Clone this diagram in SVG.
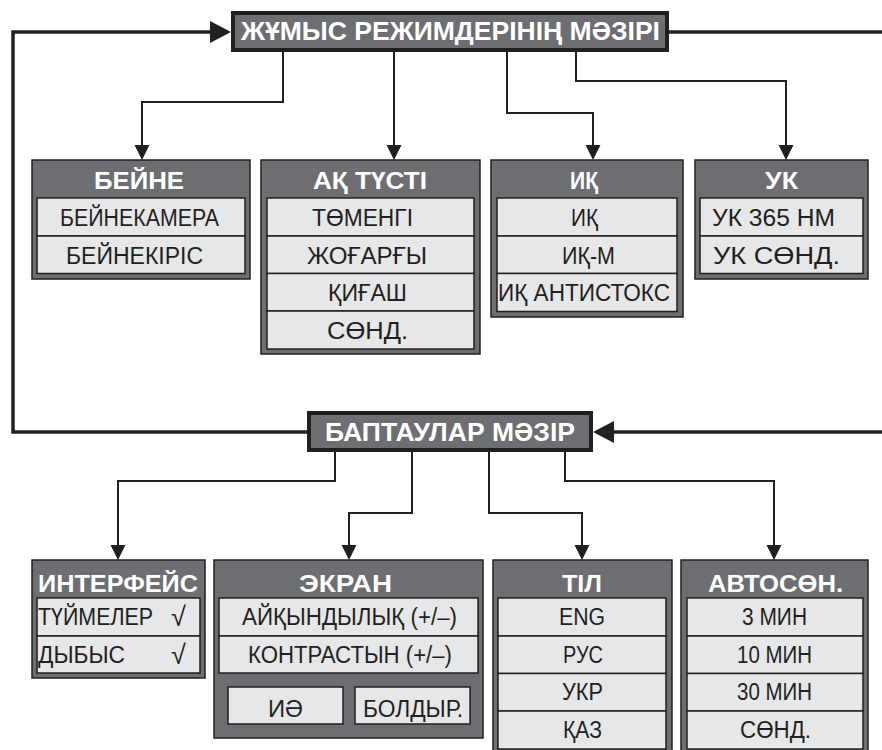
<svg xmlns="http://www.w3.org/2000/svg" width="882" height="750" viewBox="0 0 882 750">
<style>
.bg{fill:#ffffff}
.ttlbox{fill:#6d6e71;stroke:#231f20;stroke-width:4}
.bx{fill:#6d6e71;stroke:#231f20;stroke-width:1.5}
.row{fill:#e6e7e8;stroke:#231f20;stroke-width:1.5}
.ttl{font-family:"Liberation Sans",Arial,sans-serif;font-weight:bold;font-size:25px;fill:#ffffff;text-anchor:middle}
.h{font-family:"Liberation Sans",Arial,sans-serif;font-weight:bold;font-size:24px;fill:#ffffff;text-anchor:middle}
.t{font-family:"Liberation Sans",Arial,sans-serif;font-size:23px;fill:#231f20;text-anchor:middle}
.tl{font-family:"Liberation Sans",Arial,sans-serif;font-size:23px;fill:#231f20}
.ck{font-family:"Liberation Sans",Arial,sans-serif;font-size:27px;fill:#231f20}
.thick{fill:none;stroke:#231f20;stroke-width:3.5}
.thin{fill:none;stroke:#231f20;stroke-width:2}
</style>
<defs>
<marker id="ah" markerUnits="userSpaceOnUse" markerWidth="15" markerHeight="16" viewBox="0 0 15 16" refX="0" refY="8" orient="auto">
<path d="M0,0.5 L15,8 L0,15.5 z" fill="#231f20"/>
</marker>
<marker id="big" markerUnits="userSpaceOnUse" markerWidth="21" markerHeight="22" viewBox="0 0 21 22" refX="0" refY="11" orient="auto">
<path d="M0,0 L21,11 L0,22 z" fill="#231f20"/>
</marker>
</defs>
<rect class="bg" x="0" y="0" width="882" height="750"/>

<g id="connectors">
<path class="thick" d="M307 432 H13 V32 H210" marker-end="url(#big)"/>
<path class="thick" d="M669 32 H882"/>
<path class="thick" d="M882 432 H614" marker-end="url(#big)"/>
<path class="thin" d="M283 52 V102 H142 V145" marker-end="url(#ah)"/>
<path class="thin" d="M394 52 V145" marker-end="url(#ah)"/>
<path class="thin" d="M507 52 V113 H593 V145" marker-end="url(#ah)"/>
<path class="thin" d="M576 52 V81 H786 V145" marker-end="url(#ah)"/>
<path class="thin" d="M335 452 V481 H118 V545" marker-end="url(#ah)"/>
<path class="thin" d="M412 452 V513 H349 V545" marker-end="url(#ah)"/>
<path class="thin" d="M489 452 V513 H582 V545" marker-end="url(#ah)"/>
<path class="thin" d="M565 452 V481 H774 V545" marker-end="url(#ah)"/>
</g>

<g id="modes-menu">
<rect class="ttlbox" x="233" y="13" width="434" height="37"/>
<text class="ttl" x="450.5" y="40" textLength="419" lengthAdjust="spacingAndGlyphs">ЖҰМЫС РЕЖИМДЕРІНІҢ МӘЗІРІ</text>
</g>

<g id="settings-menu">
<rect class="ttlbox" x="309" y="413" width="282" height="37"/>
<text class="ttl" x="450" y="441" textLength="250" lengthAdjust="spacingAndGlyphs">БАПТАУЛАР МӘЗІР</text>
</g>

<g id="beine">
<rect class="bx" x="32" y="160" width="218" height="119"/>
<text class="h" x="139" y="188.5" textLength="90" lengthAdjust="spacingAndGlyphs">БЕЙНЕ</text>
<rect class="row" x="37" y="198" width="208" height="38"/>
<rect class="row" x="37" y="236" width="208" height="37.5"/>
<text class="t" x="139.5" y="226" textLength="159" lengthAdjust="spacingAndGlyphs">БЕЙНЕКАМЕРА</text>
<text class="t" x="134.5" y="263.5" textLength="137" lengthAdjust="spacingAndGlyphs">БЕЙНЕКІРІС</text>
</g>

<g id="ak-tusti">
<rect class="bx" x="261" y="160" width="219" height="194"/>
<text class="h" x="370" y="188.5" textLength="114" lengthAdjust="spacingAndGlyphs">АҚ ТҮСТІ</text>
<rect class="row" x="267" y="198" width="207" height="38"/>
<rect class="row" x="267" y="236" width="207" height="37.5"/>
<rect class="row" x="267" y="273.5" width="207" height="37.5"/>
<rect class="row" x="267" y="311" width="207" height="38"/>
<text class="t" x="362.5" y="226" textLength="101" lengthAdjust="spacingAndGlyphs">ТӨМЕНГІ</text>
<text class="t" x="367" y="263.5" textLength="120" lengthAdjust="spacingAndGlyphs">ЖОҒАРҒЫ</text>
<text class="t" x="367.5" y="301" textLength="79" lengthAdjust="spacingAndGlyphs">ҚИҒАШ</text>
<text class="t" x="367.5" y="338.5" textLength="81" lengthAdjust="spacingAndGlyphs">СӨНД.</text>
</g>

<g id="ik">
<rect class="bx" x="491" y="160" width="192" height="157"/>
<text class="h" x="584" y="188.5" textLength="28" lengthAdjust="spacingAndGlyphs">ИҚ</text>
<rect class="row" x="497" y="198" width="180" height="38"/>
<rect class="row" x="497" y="236" width="180" height="37.5"/>
<rect class="row" x="497" y="273.5" width="180" height="38"/>
<text class="t" x="584.5" y="226" textLength="27" lengthAdjust="spacingAndGlyphs">ИҚ</text>
<text class="t" x="588.5" y="263.5" textLength="53" lengthAdjust="spacingAndGlyphs">ИҚ-М</text>
<text class="t" x="584" y="301" textLength="172" lengthAdjust="spacingAndGlyphs">ИҚ АНТИСТОКС</text>
</g>

<g id="uk">
<rect class="bx" x="695" y="160" width="173" height="119"/>
<text class="h" x="781.5" y="188.5" textLength="33" lengthAdjust="spacingAndGlyphs">УК</text>
<rect class="row" x="700" y="198" width="163" height="38"/>
<rect class="row" x="700" y="236" width="163" height="37.5"/>
<text class="t" x="773.5" y="226" textLength="123" lengthAdjust="spacingAndGlyphs">УК 365 НМ</text>
<text class="t" x="776.5" y="263.5" textLength="127" lengthAdjust="spacingAndGlyphs">УК СӨНД.</text>
</g>

<g id="interface">
<rect class="bx" x="32" y="560" width="173" height="118"/>
<text class="h" x="118" y="592" textLength="160" lengthAdjust="spacingAndGlyphs">ИНТЕРФЕЙС</text>
<rect class="row" x="37" y="598" width="163" height="38"/>
<rect class="row" x="37" y="636" width="163" height="37"/>
<text class="tl" x="38" y="625" textLength="115" lengthAdjust="spacingAndGlyphs">ТҮЙМЕЛЕР</text>
<text class="ck" x="171" y="626">√</text>
<text class="tl" x="38" y="662.5" textLength="87" lengthAdjust="spacingAndGlyphs">ДЫБЫС</text>
<text class="ck" x="171" y="663.5">√</text>
</g>

<g id="ekran">
<rect class="bx" x="214" y="560" width="269" height="178"/>
<text class="h" x="345.5" y="592" textLength="93" lengthAdjust="spacingAndGlyphs">ЭКРАН</text>
<rect class="row" x="219" y="598" width="259" height="38"/>
<rect class="row" x="219" y="636" width="259" height="37"/>
<text class="t" x="349.5" y="625" textLength="215" lengthAdjust="spacingAndGlyphs">АЙҚЫНДЫЛЫҚ (+/–)</text>
<text class="t" x="350" y="662.5" textLength="204" lengthAdjust="spacingAndGlyphs">КОНТРАСТЫН (+/–)</text>
<rect class="row" x="228" y="687" width="115" height="37"/>
<rect class="row" x="355" y="687" width="115" height="37"/>
<text class="t" x="285.5" y="717" textLength="35" lengthAdjust="spacingAndGlyphs">ИӘ</text>
<text class="t" x="413" y="717" textLength="100" lengthAdjust="spacingAndGlyphs">БОЛДЫР.</text>
</g>

<g id="til">
<rect class="bx" x="493" y="560" width="179" height="196"/>
<text class="h" x="582" y="592" textLength="40" lengthAdjust="spacingAndGlyphs">ТІЛ</text>
<rect class="row" x="498" y="598" width="168" height="38"/>
<rect class="row" x="498" y="636" width="168" height="37.5"/>
<rect class="row" x="498" y="673.5" width="168" height="37.5"/>
<rect class="row" x="498" y="711" width="168" height="38"/>
<text class="t" x="582" y="625" textLength="46" lengthAdjust="spacingAndGlyphs">ENG</text>
<text class="t" x="583" y="662.5" textLength="40" lengthAdjust="spacingAndGlyphs">РУС</text>
<text class="t" x="582.5" y="700" textLength="41" lengthAdjust="spacingAndGlyphs">УКР</text>
<text class="t" x="582.5" y="737.5" textLength="39" lengthAdjust="spacingAndGlyphs">ҚАЗ</text>
</g>

<g id="avtosoen">
<rect class="bx" x="681" y="560" width="187" height="196"/>
<text class="h" x="775.5" y="592" textLength="135" lengthAdjust="spacingAndGlyphs">АВТОСӨН.</text>
<rect class="row" x="687" y="598" width="176" height="38"/>
<rect class="row" x="687" y="636" width="176" height="37.5"/>
<rect class="row" x="687" y="673.5" width="176" height="37.5"/>
<rect class="row" x="687" y="711" width="176" height="38"/>
<text class="t" x="774.5" y="625" textLength="65" lengthAdjust="spacingAndGlyphs">3 МИН</text>
<text class="t" x="774.5" y="662.5" textLength="75" lengthAdjust="spacingAndGlyphs">10 МИН</text>
<text class="t" x="774.5" y="700" textLength="75" lengthAdjust="spacingAndGlyphs">30 МИН</text>
<text class="t" x="775.5" y="737.5" textLength="71" lengthAdjust="spacingAndGlyphs">СӨНД.</text>
</g>
</svg>
